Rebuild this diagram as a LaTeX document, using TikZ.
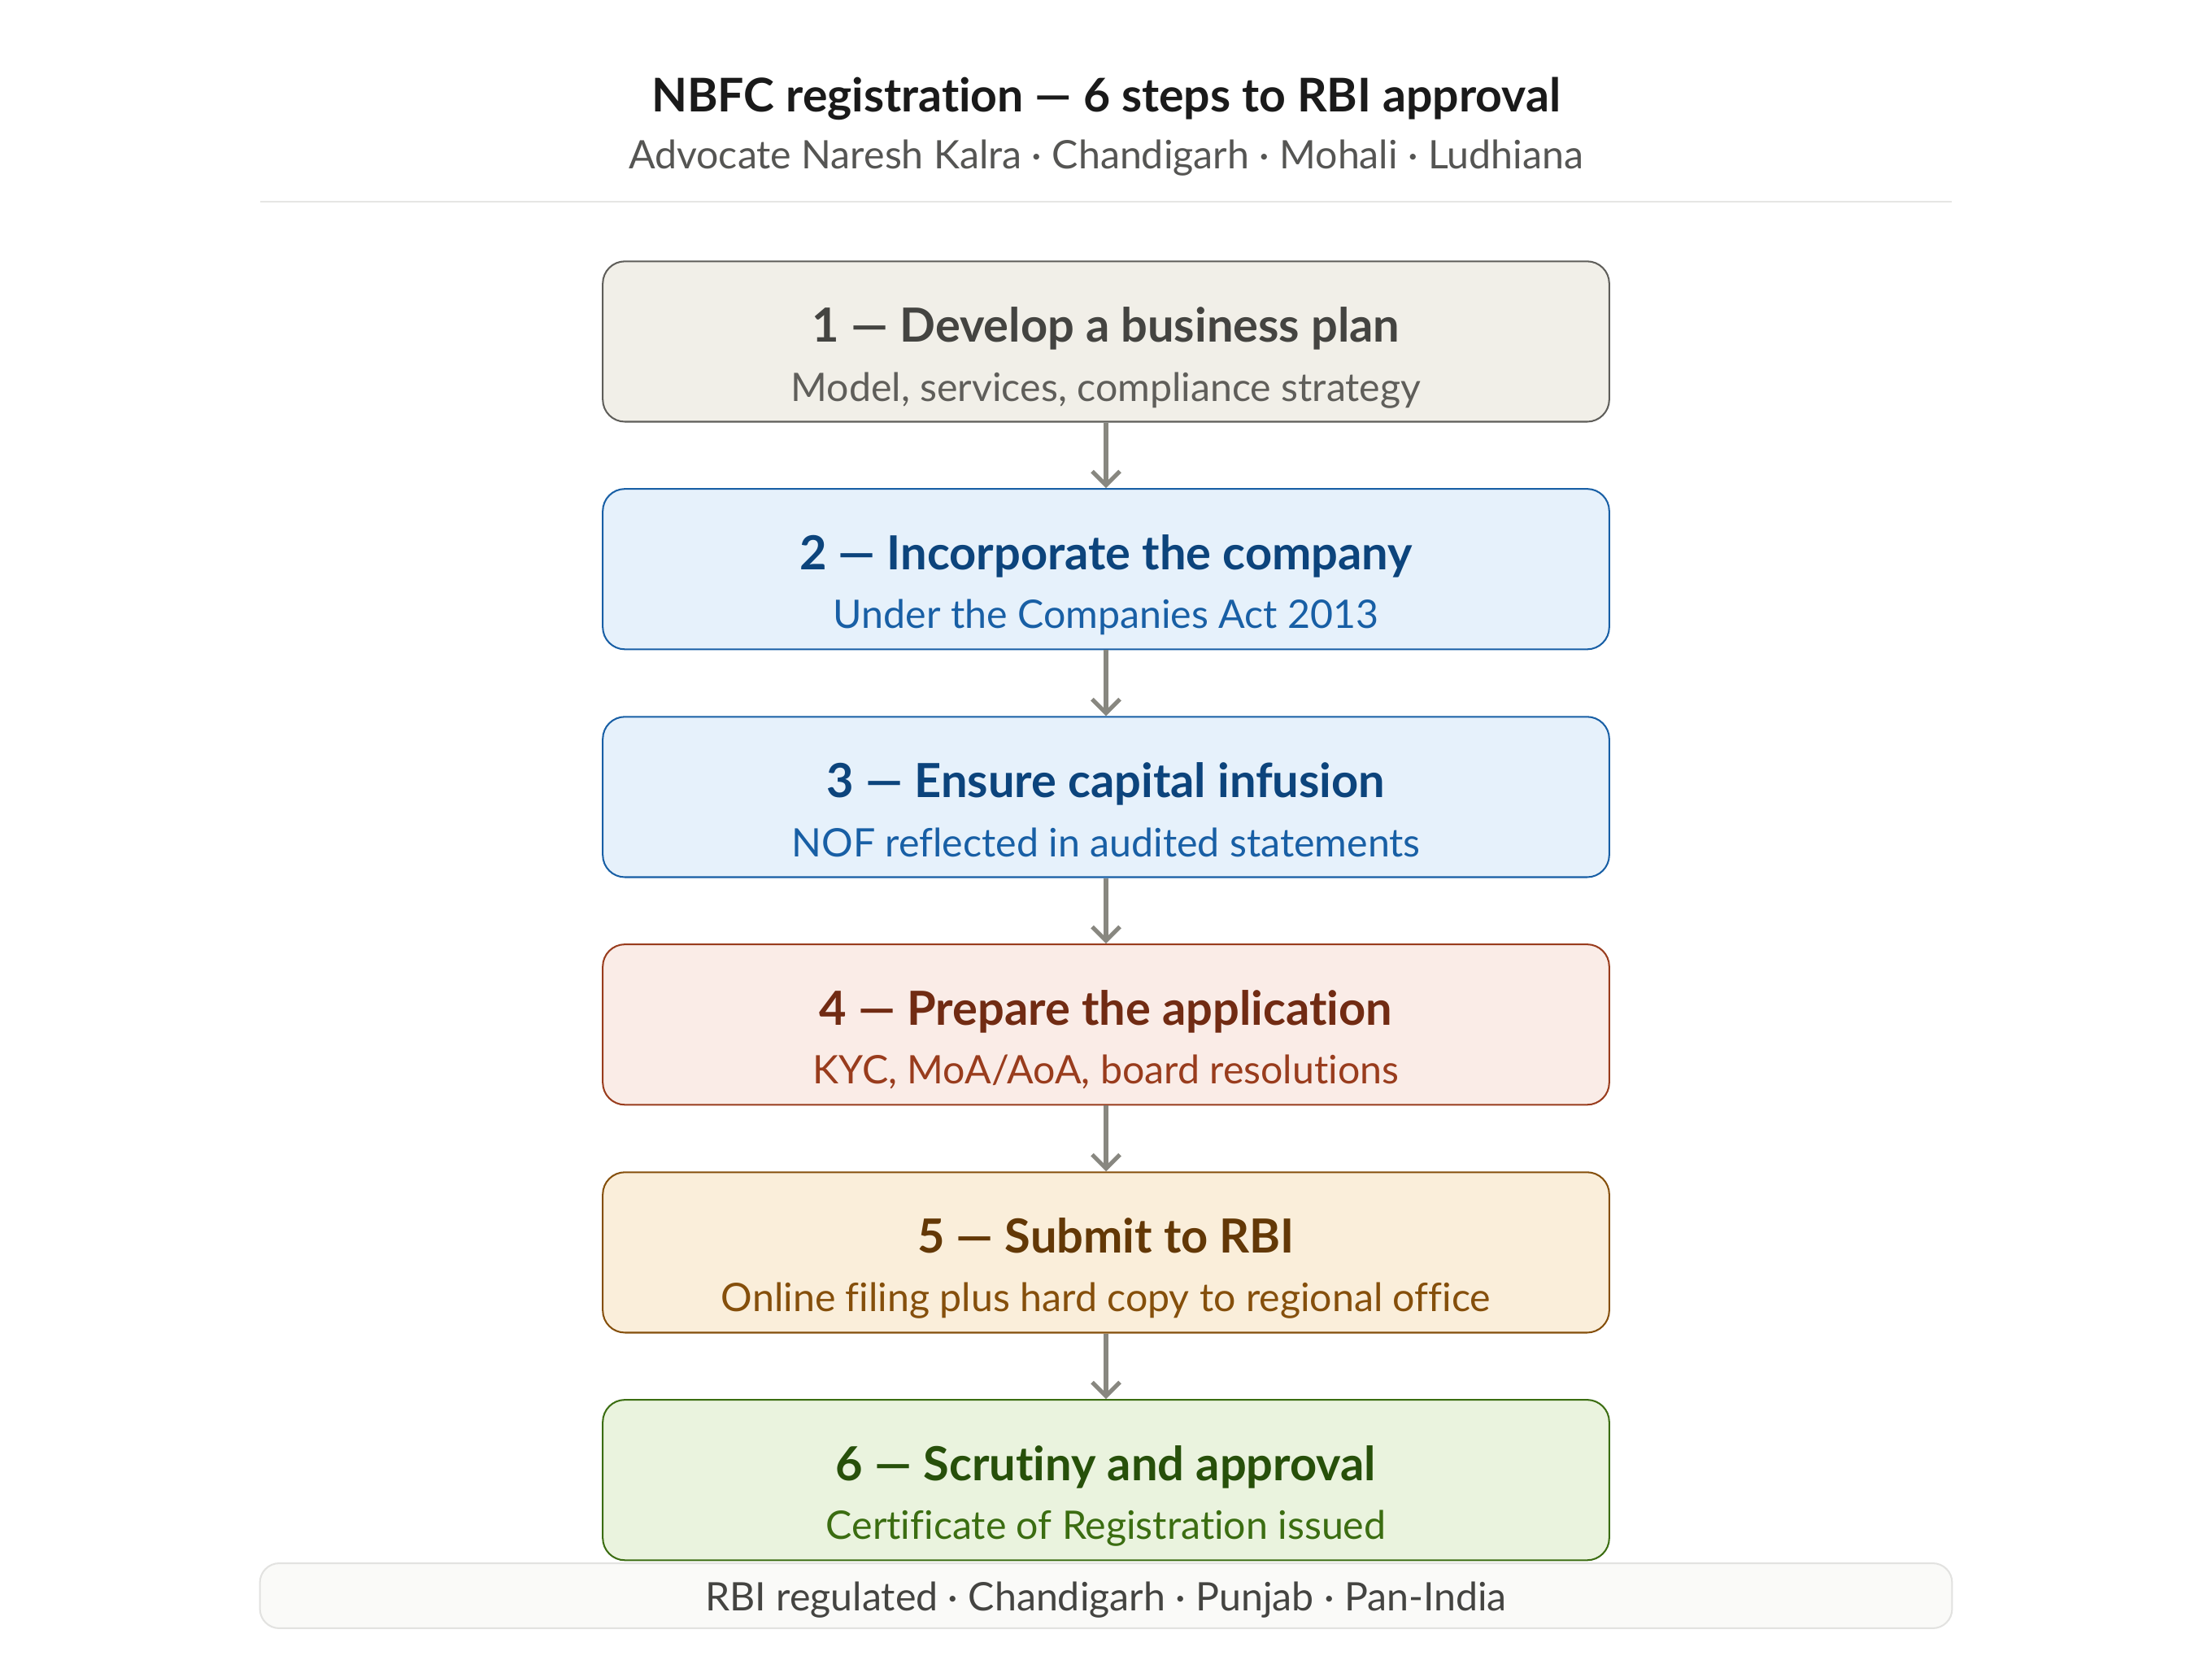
\documentclass[tikz,border=0pt]{standalone}
\usepackage{fontspec}
\setmainfont{Lato}[Ligatures=NoCommon]
\usepackage{xcolor}
\usetikzlibrary{positioning, arrows.meta}

\definecolor{inkdark}{HTML}{1A1A1A}
\definecolor{inkmid}{HTML}{555553}
\definecolor{rulegray}{HTML}{E6E6E4}
\definecolor{arrowgray}{HTML}{888780}
% step palettes
\definecolor{grayfill}{HTML}{F1EFE8}
\definecolor{grayline}{HTML}{5F5E5A}
\definecolor{graytext}{HTML}{444441}
\definecolor{bluefill}{HTML}{E6F1FB}
\definecolor{blueline}{HTML}{185FA5}
\definecolor{bluetext}{HTML}{0C447C}
\definecolor{coralfill}{HTML}{FAECE7}
\definecolor{coralline}{HTML}{993C1D}
\definecolor{coraltext}{HTML}{712B13}
\definecolor{amberfill}{HTML}{FAEEDA}
\definecolor{amberline}{HTML}{854F0B}
\definecolor{ambertext}{HTML}{633806}
\definecolor{greenfill}{HTML}{EAF3DE}
\definecolor{greenline}{HTML}{3B6D11}
\definecolor{greentext}{HTML}{27500A}
\definecolor{footfill}{HTML}{FAFAF8}
\definecolor{footline}{HTML}{E2E2E0}

\begin{document}
\begin{tikzpicture}[x=1pt, y=-1pt,
    box/.style={draw, rounded corners=8pt, line width=0.6pt, minimum width=364pt, minimum height=58pt, anchor=north, inner sep=0pt},
    stephead/.style={anchor=base, inner sep=0pt, font=\fontsize{17}{20}\selectfont\bfseries},
    stepsub/.style={anchor=base, inner sep=0pt, font=\fontsize{14.2}{17}\selectfont},
    flow/.style={draw=arrowgray, line width=1.5pt, -{Straight Barb[length=5pt, width=10pt]}}]

    % Canvas
    \fill[white] (0,0) rectangle (800,600);
    \useasboundingbox (0,0) rectangle (800,600);

    % Heading
    \node[anchor=base, inner sep=0pt, text=inkdark, font=\fontsize{16.8}{20}\selectfont\bfseries] (title) at (400,40.5) {NBFC registration — 6 steps to RBI approval};
    \node[anchor=base, inner sep=0pt, text=inkmid, font=\fontsize{14.2}{17}\selectfont] (subtitle) at (400,61) {Advocate Naresh Kalra · Chandigarh · Mohali · Ludhiana};
    \coordinate (ruleL) at (94,73);
    \coordinate (ruleR) at (706,73);
    \draw[rulegray, line width=0.6pt] (ruleL) -- (ruleR);

    % The six steps
    \node[box, draw=grayline, fill=grayfill] (s1) at (400,94.2) {};
    \node[stephead, text=graytext] (h1) at ([yshift=-29.6pt]s1.north) {1 — Develop a business plan};
    \node[stepsub, text=grayline] (d1) at ([yshift=-50.8pt]s1.north) {Model, services, compliance strategy};

    \node[box, draw=blueline, fill=bluefill] (s2) at (400,176.5) {};
    \node[stephead, text=bluetext] (h2) at ([yshift=-29.6pt]s2.north) {2 — Incorporate the company};
    \node[stepsub, text=blueline] (d2) at ([yshift=-50.8pt]s2.north) {Under the Companies Act 2013};

    \node[box, draw=blueline, fill=bluefill] (s3) at (400,258.9) {};
    \node[stephead, text=bluetext] (h3) at ([yshift=-29.6pt]s3.north) {3 — Ensure capital infusion};
    \node[stepsub, text=blueline] (d3) at ([yshift=-50.8pt]s3.north) {NOF reflected in audited statements};

    \node[box, draw=coralline, fill=coralfill] (s4) at (400,341.2) {};
    \node[stephead, text=coraltext] (h4) at ([yshift=-29.6pt]s4.north) {4 — Prepare the application};
    \node[stepsub, text=coralline] (d4) at ([yshift=-50.8pt]s4.north) {KYC, MoA/AoA, board resolutions};

    \node[box, draw=amberline, fill=amberfill] (s5) at (400,423.6) {};
    \node[stephead, text=ambertext] (h5) at ([yshift=-29.6pt]s5.north) {5 — Submit to RBI};
    \node[stepsub, text=amberline] (d5) at ([yshift=-50.8pt]s5.north) {Online filing plus hard copy to regional office};

    \node[box, draw=greenline, fill=greenfill] (s6) at (400,505.9) {};
    \node[stephead, text=greentext] (h6) at ([yshift=-29.6pt]s6.north) {6 — Scrutiny and approval};
    \node[stepsub, text=greenline] (d6) at ([yshift=-50.8pt]s6.north) {Certificate of Registration issued};

    % Arrows between steps
    \draw[flow] (s1) -- (s2);
    \draw[flow] (s2) -- (s3);
    \draw[flow] (s3) -- (s4);
    \draw[flow] (s4) -- (s5);
    \draw[flow] (s5) -- (s6);

    % Footer strip
    \node[draw=footline, fill=footfill, rounded corners=7pt, line width=0.6pt, minimum width=612pt, minimum height=23.5pt, anchor=north, inner sep=0pt] (foot) at (400,565) {};
    \node[stepsub, text=graytext] (footnote) at (400,582.4) {RBI regulated · Chandigarh · Punjab · Pan-India};
\end{tikzpicture}
\end{document}
